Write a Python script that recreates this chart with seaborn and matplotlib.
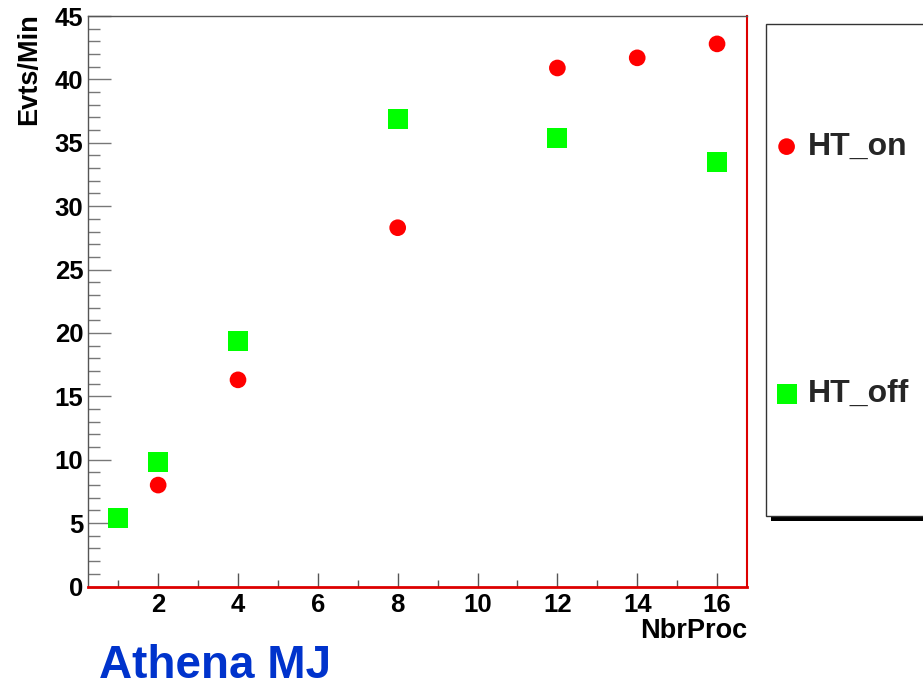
import matplotlib
matplotlib.use("Agg")
import matplotlib.pyplot as plt
from matplotlib.patches import Rectangle
from matplotlib.ticker import MultipleLocator
import seaborn as sns
import pandas as pd

# Throughput vs number of processes
nproc_on = [2, 4, 8, 12, 14, 16]
evts_on = [8.0, 16.3, 28.3, 40.9, 41.7, 42.8]
nproc_off = [1, 2, 4, 8, 12, 16]
evts_off = [5.4, 9.8, 19.4, 36.9, 35.4, 33.5]
x_ticks = [2, 4, 6, 8, 10, 12, 14, 16]
y_ticks = [0, 5, 10, 15, 20, 25, 30, 35, 40, 45]

sns.set_theme(style="white")
plt.rcParams["font.family"] = ["Liberation Sans", "DejaVu Sans"]
plt.rcParams["font.weight"] = "bold"

W, H = 923, 688
fig = plt.figure(figsize=(W / 100, H / 100), dpi=100)
ax = fig.add_axes([88.3 / W, 1 - 586.5 / H, (747 - 88.3) / W, (586.5 - 16) / H])

df_on = pd.DataFrame({"NbrProc": nproc_on, "Evts": evts_on})
df_off = pd.DataFrame({"NbrProc": nproc_off, "Evts": evts_off})
sns.scatterplot(data=df_on, x="NbrProc", y="Evts", ax=ax, marker="o", s=144,
                color="#ff0000", edgecolor="none", label="HT_on", zorder=3)
sns.scatterplot(data=df_off, x="NbrProc", y="Evts", ax=ax, marker="s", s=207,
                color="#00ff00", edgecolor="none", label="HT_off", zorder=3)

ax.set_xlim(0.25, 16.75)
ax.set_ylim(0, 45)
ax.set_xticks(x_ticks)
ax.set_yticks(y_ticks)
ax.xaxis.set_minor_locator(MultipleLocator(1))
ax.yaxis.set_minor_locator(MultipleLocator(1))

ax.tick_params(axis="y", which="major", direction="in", length=16.5, width=1,
               color="#777777", pad=3.5, labelsize=18.5, left=True)
ax.tick_params(axis="y", which="minor", direction="in", length=8.5, width=1,
               color="#777777", left=True)
ax.tick_params(axis="x", which="major", direction="in", length=10, width=1,
               color="#555555", pad=4.5, labelsize=18.5, bottom=True)
ax.tick_params(axis="x", which="minor", direction="in", length=5, width=1,
               color="#555555", bottom=True)
for lab in ax.get_xticklabels() + ax.get_yticklabels():
    lab.set_fontweight("bold")
    lab.set_color("black")

for side in ("left", "top"):
    ax.spines[side].set_color("#555555")
    ax.spines[side].set_linewidth(1)
ax.spines["right"].set_color("#dd0000")
ax.spines["right"].set_linewidth(1.5)
ax.spines["bottom"].set_color("#dd0000")
ax.spines["bottom"].set_linewidth(2)

ax.set_xlabel("NbrProc", fontsize=19.5, fontweight="bold", loc="right",
              color="black")
ax.xaxis.set_label_coords(1.0, -0.055)
ax.set_ylabel("Evts/Min", fontsize=19.5, fontweight="bold", loc="top",
              color="black")
ax.yaxis.set_label_coords(-0.07, 1.005)

# Legend panel with drop shadow
bx0, by_top, by_bot = 766, 24, 516
fig.patches.append(Rectangle(((bx0 + 5) / W, 1 - (by_bot + 4.5) / H), 200 / W,
                             (by_bot - by_top) / H, transform=fig.transFigure,
                             facecolor="black", edgecolor="none", zorder=0))
fig.patches.append(Rectangle((bx0 / W, 1 - by_bot / H), 200 / W,
                             (by_bot - by_top) / H, transform=fig.transFigure,
                             facecolor="white", edgecolor="#333333", linewidth=1,
                             zorder=1))

handles, labels = ax.get_legend_handles_labels()
ax.get_legend().remove()
leg = fig.legend(handles, labels, loc="upper left",
                 bbox_to_anchor=(777 / W, 1 - 132 / H),
                 bbox_transform=fig.transFigure, frameon=False,
                 prop={"weight": "bold", "size": 23},
                 labelspacing=6.8, handlelength=0.6, handletextpad=0.36,
                 borderpad=0, borderaxespad=0)
leg.set_zorder(2)

fig.text(99 / W, 1 - 678 / H, "Athena MJ", fontsize=33, fontweight="bold",
         color="#0033cc", va="baseline", ha="left")

fig.savefig("out.png", dpi=100)
